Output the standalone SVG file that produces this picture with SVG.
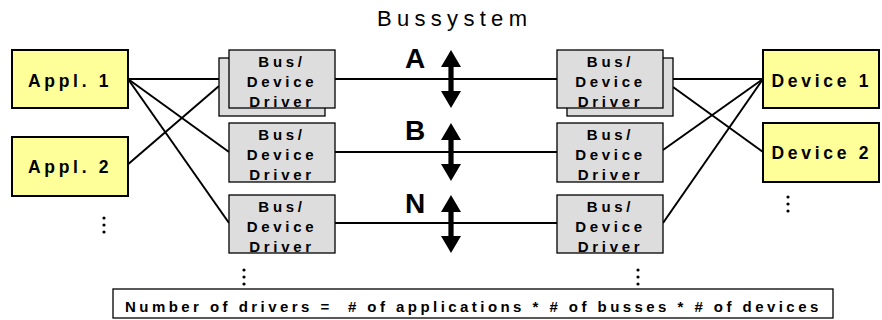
<svg xmlns="http://www.w3.org/2000/svg" width="882" height="320" viewBox="0 0 882 320">
  <style>
    .app { fill: #ffff99; stroke: #000; stroke-width: 2; }
    .drv { fill: #dddddd; stroke: #000; stroke-width: 1.3; }
    .lbl { font-family: "Liberation Sans", Arial, sans-serif; font-weight: bold; fill: #000; }
    .big { font-size: 17.5px; letter-spacing: 3.7px; }
    .drvt { font-size: 15px; letter-spacing: 3.7px; text-anchor: middle; }
    .bus { font-family: "Liberation Sans", Arial, sans-serif; font-weight: bold; font-size: 28px; fill: #000; text-anchor: middle; }
    .wire { stroke: #000; stroke-width: 2; fill: none; }
    .dot { fill: #000; }
  </style>
  <defs>
    <!-- double-headed bus arrow, tip to tip 58px, centred on origin -->
    <polygon id="busArrow" points="0,-29 10,-12 2.6,-12 2.6,12 10,12 0,29 -10,12 -2.6,12 -2.6,-12 -10,-12" fill="#000"/>
    <g id="vdots">
      <circle cx="0" cy="0" r="1.6"/>
      <circle cx="0" cy="7" r="1.6"/>
      <circle cx="0" cy="14" r="1.6"/>
    </g>
  </defs>
  <rect width="882" height="320" fill="#fff"/>

  <text x="377" y="26" font-family="Liberation Sans, Arial, sans-serif" font-size="22" letter-spacing="5.3">Bussystem</text>

  <!-- connectors -->
  <g id="connectors">
    <line class="wire" x1="128" y1="79" x2="229" y2="79"/>
    <line class="wire" x1="128" y1="79" x2="229" y2="152"/>
    <line class="wire" x1="128" y1="79" x2="229" y2="223"/>
    <line class="wire" x1="126" y1="166" x2="219" y2="86"/>
    <line class="wire" x1="335" y1="79" x2="557" y2="79"/>
    <line class="wire" x1="335" y1="152" x2="557" y2="152"/>
    <line class="wire" x1="335" y1="223" x2="557" y2="223"/>
    <line class="wire" x1="663" y1="79" x2="763" y2="79"/>
    <line class="wire" x1="673" y1="87" x2="763" y2="152"/>
    <line class="wire" x1="663" y1="150" x2="763" y2="79"/>
    <line class="wire" x1="663" y1="223" x2="763" y2="79"/>
  </g>

  <!-- bus markers -->
  <g id="bus-a">
    <text class="bus" x="415" y="68">A</text>
    <use href="#busArrow" x="451" y="79"/>
  </g>
  <g id="bus-b">
    <text class="bus" x="415" y="140">B</text>
    <use href="#busArrow" x="451" y="152"/>
  </g>
  <g id="bus-n">
    <text class="bus" x="415" y="213">N</text>
    <use href="#busArrow" x="451" y="224"/>
  </g>

  <!-- applications -->
  <g id="appl1">
    <rect class="app" x="12" y="50" width="116" height="58"/>
    <text class="lbl big" x="28" y="86.5">Appl. 1</text>
  </g>
  <g id="appl2">
    <rect class="app" x="12" y="137" width="116" height="59"/>
    <text class="lbl big" x="28" y="173">Appl. 2</text>
  </g>

  <!-- left drivers -->
  <g id="ldrv1">
    <rect class="drv" x="219" y="58" width="106" height="58"/>
    <rect class="drv" x="229" y="50" width="106" height="58"/>
    <text class="lbl drvt" x="282" y="67.3">Bus/</text>
    <text class="lbl drvt" x="282" y="87.3">Device</text>
    <text class="lbl drvt" x="282" y="106.7">Driver</text>
  </g>
  <g id="ldrv2">
    <rect class="drv" x="229" y="123" width="106" height="59"/>
    <text class="lbl drvt" x="282" y="140.3">Bus/</text>
    <text class="lbl drvt" x="282" y="160.3">Device</text>
    <text class="lbl drvt" x="282" y="179.7">Driver</text>
  </g>
  <g id="ldrv3">
    <rect class="drv" x="229" y="195" width="106" height="58"/>
    <text class="lbl drvt" x="282" y="212.3">Bus/</text>
    <text class="lbl drvt" x="282" y="232.3">Device</text>
    <text class="lbl drvt" x="282" y="251.7">Driver</text>
  </g>

  <!-- right drivers -->
  <g id="rdrv1">
    <rect class="drv" x="567" y="58" width="106" height="58"/>
    <rect class="drv" x="557" y="50" width="106" height="58"/>
    <text class="lbl drvt" x="610.5" y="67.3">Bus/</text>
    <text class="lbl drvt" x="610.5" y="87.3">Device</text>
    <text class="lbl drvt" x="610.5" y="106.7">Driver</text>
  </g>
  <g id="rdrv2">
    <rect class="drv" x="557" y="123" width="106" height="59"/>
    <text class="lbl drvt" x="610.5" y="140.3">Bus/</text>
    <text class="lbl drvt" x="610.5" y="160.3">Device</text>
    <text class="lbl drvt" x="610.5" y="179.7">Driver</text>
  </g>
  <g id="rdrv3">
    <rect class="drv" x="557" y="195" width="106" height="58"/>
    <text class="lbl drvt" x="610.5" y="212.3">Bus/</text>
    <text class="lbl drvt" x="610.5" y="232.3">Device</text>
    <text class="lbl drvt" x="610.5" y="251.7">Driver</text>
  </g>

  <!-- devices -->
  <g id="device1">
    <rect class="app" x="763" y="50" width="116" height="58"/>
    <text class="lbl big" x="771.5" y="87">Device 1</text>
  </g>
  <g id="device2">
    <rect class="app" x="763" y="123" width="116" height="59"/>
    <text class="lbl big" x="771.5" y="158.5">Device 2</text>
  </g>

  <!-- continuation marks -->
  <g class="dot">
    <use href="#vdots" x="104" y="218"/>
    <use href="#vdots" x="244" y="270"/>
    <use href="#vdots" x="638" y="270"/>
    <use href="#vdots" x="788" y="197"/>
  </g>

  <!-- formula -->
  <g id="formula">
    <rect x="113" y="289" width="720" height="29" fill="#fff" stroke="#000" stroke-width="1.3"/>
    <text class="lbl" x="125" y="311.5" font-size="15" letter-spacing="3.45" xml:space="preserve">Number of drivers =  # of applications * # of busses * # of devices</text>
  </g>
</svg>
